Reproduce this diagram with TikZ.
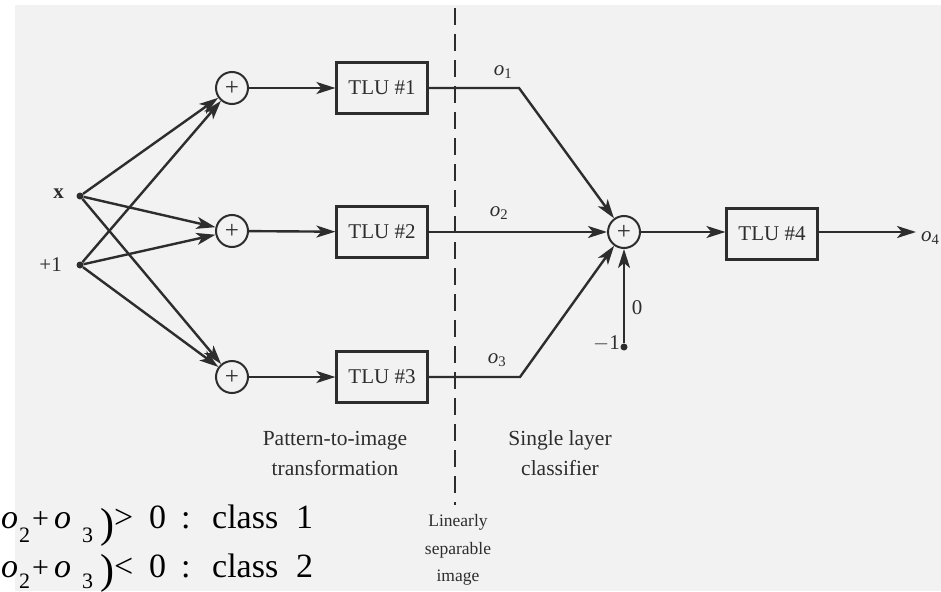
\documentclass[tikz,border=0pt]{standalone}
\usepackage{fontspec}
\setmainfont{Liberation Serif}
\usetikzlibrary{arrows.meta}
\definecolor{ink}{RGB}{45,45,45}
\definecolor{paper}{RGB}{242,242,242}
\newcommand{\placeat}[2]{\rlap{\hspace*{#1}#2}}
\newcommand{\eqline}[4]{%
  \fontsize{34}{34}\selectfont
  \placeat{1pt}{\textit{o}}%
  \placeat{19pt}{\raisebox{-#3}{\fontsize{22}{22}\selectfont 2}}%
  \placeat{32pt}{\fontsize{30}{30}\selectfont +}%
  \placeat{54pt}{\textit{o}}%
  \placeat{82pt}{\raisebox{-#3}{\fontsize{22}{22}\selectfont 3}}%
  \placeat{100pt}{\raisebox{-#4}{\fontsize{42}{42}\selectfont )}}%
  \placeat{114pt}{#1}%
  \placeat{149pt}{0}%
  \placeat{181pt}{:}%
  \placeat{212pt}{class}%
  \placeat{296pt}{#2}%
  \hspace*{313pt}}
\begin{document}
\begin{tikzpicture}[x=1pt,y=-1pt,
  wire/.style={draw=ink, line width=2.4pt},
  arr/.style={wire, -{Stealth[length=19pt,width=12pt,inset=5pt]}},
  sumnode/.style={circle, draw=ink, line width=2pt, minimum size=32pt, inner sep=0pt, font=\fontsize{25}{25}\selectfont, text=ink, fill=paper},
  tlu/.style={draw=ink, line width=2.2pt, minimum width=91pt, minimum height=51pt, inner sep=0pt, font=\fontsize{21}{21}\selectfont, text=ink, fill=paper},
  dotn/.style={circle, fill=ink, inner sep=0pt, minimum size=7pt},
  lbl/.style={font=\fontsize{21}{22}\selectfont, text=ink, inner sep=1pt},
  captxt/.style={font=\fontsize{21.5}{30}\selectfont, text=ink, align=center},
  eq/.style={anchor=base west, inner sep=0pt, text=black},
  sep/.style={draw=ink, line width=2.8pt, dash pattern=on 17pt off 9pt}
]
\useasboundingbox (0,0) rectangle (941,591);
\fill[paper] (15,5) rectangle (941,591);

% inputs
\node[dotn] (x) at (80,196) {};
\node[dotn] (one) at (80,265) {};
\node[lbl, anchor=east] (xl) at (65,194) {\textbf{x}};
\node[lbl, anchor=east] (onel) at (63,265) {+1};

% separator
\coordinate (dtop) at (455,8);
\coordinate (dbot) at (455,505);

% sums and TLUs
\node[sumnode] (s1) at (232,88) {+};
\node[sumnode] (s2) at (232,231) {+};
\node[sumnode] (s3) at (232,377) {+};
\node[tlu] (t1) at (382,88) {TLU \#1};
\node[tlu] (t2) at (382,232) {TLU \#2};
\node[tlu] (t3) at (382,377) {TLU \#3};
\node[sumnode] (s4) at (624,232) {+};
\node[tlu] (t4) at (772,234) {TLU \#4};
\node[dotn] (m1) at (624,347) {};
\coordinate (b1) at (519,88);
\coordinate (b3) at (520,377);
\coordinate (out) at (916,232);

% input connectors
\foreach \s in {s1,s2,s3} {
  \draw[arr] (x) -- (\s);
  \draw[arr] (one) -- (\s);
}
\draw[arr] (s1) -- (t1);
\draw[arr] (s2) -- (t2);
\draw[arr] (s3) -- (t3);

% outputs to classifier
\draw[arr] (t1.east) -- (b1) -- (s4);
\draw[arr] (t2.east) -- (s4);
\draw[arr] (t3.east) -- (b3) -- (s4);
\draw[arr] (m1) -- (s4);
\draw[arr] (s4) -- (t4.west |- s4);
\draw[arr] (t4.east |- out) -- (out);

\draw[sep] (dtop) -- (dbot);

% labels
\node[lbl] (o1) at (503,72) {\textit{o}\textsubscript{1}};
\node[lbl] (o2) at (499,213) {\textit{o}\textsubscript{2}};
\node[lbl] (o3) at (497,360) {\textit{o}\textsubscript{3}};
\node[lbl, anchor=west] (o4) at (920,238) {\textit{o}\textsubscript{4}};
\node[lbl] (zero) at (637,308) {0};
\node[lbl, anchor=east] (mone) at (621,343) {$-$1};

\node[captxt] (c1) at (335,453) {Pattern-to-image\\transformation};
\node[captxt] (c2) at (560,453) {Single layer\\classifier};
\node[captxt, font=\fontsize{17.5}{27.5}\selectfont] (c3) at (458,550) {Linearly\\separable\\image};

\node[eq] (e1) at (0,528) {\eqline{>}{1}{14pt}{9pt}};
\node[eq] (e2) at (0,577) {\eqline{<}{2}{11pt}{6pt}};
\end{tikzpicture}
\end{document}
